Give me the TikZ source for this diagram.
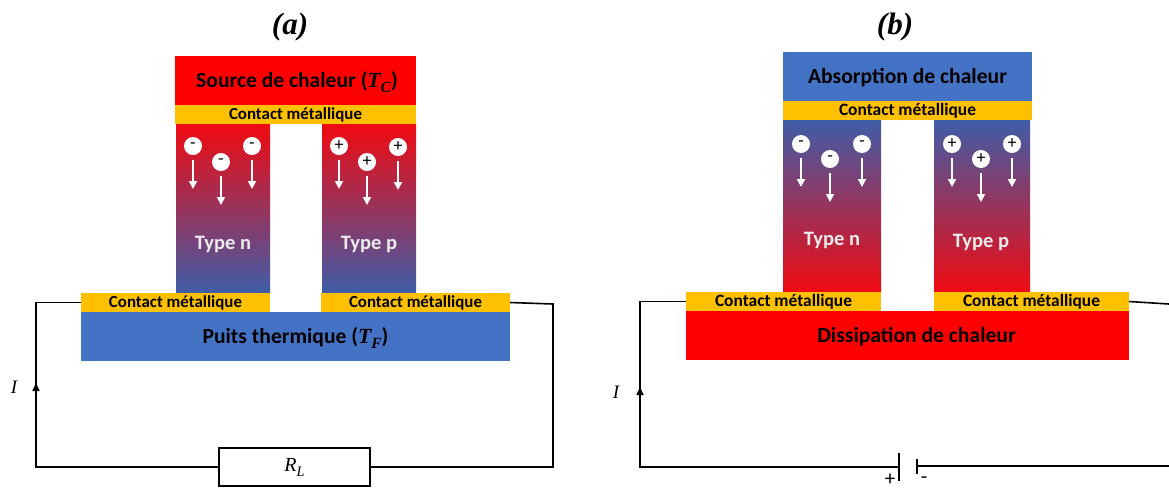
\documentclass[tikz,border=0pt]{standalone}
\usepackage{fontspec}
\setmainfont{Carlito}
\newfontfamily\serifT{Liberation Serif}
\usetikzlibrary{arrows.meta}
\definecolor{gold}{HTML}{FFC000}
\definecolor{heat}{HTML}{FF0000}
\definecolor{cold}{HTML}{4472C4}
\definecolor{legred}{HTML}{F00A10}
\definecolor{legblue}{HTML}{3F5DA8}
\newcommand{\mathlab}[2]{{\serifT\bfseries\itshape #1\raisebox{-0.22em}{\scalebox{0.72}{#2}}}}
\tikzset{
  x=1pt,y=-1pt,
  cell/.style={anchor=north west,inner sep=0pt,outer sep=0pt,text=black,text height=16pt,text depth=2pt,font=\bfseries\fontsize{21.6}{24}\selectfont},
  heatbox/.style={cell,fill=heat},
  coldbox/.style={cell,fill=cold},
  contact/.style={cell,fill=gold,text height=12pt,text depth=2pt,font=\bfseries\fontsize{16.9}{18}\selectfont},
  contactb/.style={contact,font=\bfseries\fontsize{17.4}{18}\selectfont},
  legdown/.style={cell,top color=legred,bottom color=legblue},
  legup/.style={cell,top color=legblue,bottom color=legred},
  legtext/.style={text=black!8,font=\bfseries\fontsize{20.5}{22}\selectfont},
  carrier/.style={circle,fill=white,inner sep=0pt,minimum size=18pt,text=black,font=\fontsize{18}{18}\selectfont},
  flow/.style={draw=white,line width=1.7pt,-{Triangle[length=8pt,width=8pt]}},
  wire/.style={draw=black,line width=1.6pt},
  title/.style={font=\serifT\bfseries\itshape\fontsize{31}{34}\selectfont},
  ilabel/.style={font=\serifT\itshape\fontsize{19}{20}\selectfont},
  sign/.style={font=\fontsize{21}{21}\selectfont,inner sep=0pt}
}
\begin{document}
\begin{tikzpicture}
\useasboundingbox (0,0) rectangle (1169,491);
% ---------- (a)
\node[title] (ta) at (290,27) {(a)};
\node[heatbox,minimum width=241pt,minimum height=49pt] (srcA) at (175,56) {\hspace*{3pt}Source de chaleur (\mathlab{T}{C})};
\node[contact,minimum width=241pt,minimum height=19pt] (topA) at (175,105) {Contact métallique};
\node[legdown,minimum width=94pt,minimum height=169pt] (nA) at (176,124) {};
\node[legdown,minimum width=94pt,minimum height=169pt] (pA) at (322,124) {};
\node[legtext] (nAt) at (223,244) {Type n};
\node[legtext] (pAt) at (369,244) {Type p};
\node[coldbox,minimum width=429pt,minimum height=49pt] (sink) at (81,312) {Puits thermique (\mathlab{T}{F})};
\node[contact,minimum width=189pt,minimum height=19pt] (botAl) at (81,293) {Contact métallique};
\node[contact,minimum width=189pt,minimum height=19pt] (botAr) at (321,293) {Contact métallique};
\foreach \n/\x/\y/\s in {a1/193/146/-,a2/221/162/-,a3/252/146/-,a4/339/146/+,a5/367/162/+,a6/398/147/+}{
  \node[carrier] (\n) at (\x,\y) {\s};
  \coordinate (\n e) at (\x,\y+43);
  \draw[flow] ([yshift=-5pt]\n.south) -- (\n e);
}
% circuit (a)
\node[draw=black,line width=1.6pt,fill=white,minimum width=151pt,minimum height=38pt,inner sep=0pt,font=\serifT\itshape\fontsize{20}{22}\selectfont] (RL) at (294.5,467) {R\raisebox{-0.25em}{\scalebox{0.72}{L}}};
\coordinate (a1c) at (36,302.5);
\coordinate (a2c) at (36,467);
\coordinate (a3c) at (553,467);
\coordinate (a4c) at (553,304);
\coordinate (aArrow) at (36,383);
\draw[wire] (botAl.west) -- (a1c) -- (a2c) -- (RL.west);
\draw[wire] (RL.east) -- (a3c) -- (a4c) -- (botAr.east);
\draw[wire,-{Triangle[length=8pt,width=7pt]}] (a2c) -- (aArrow);
\node[ilabel] (Ia) at (14,387) {I};
% ---------- (b)
\node[title] (tb) at (895,27) {(b)};
\node[coldbox,minimum width=249pt,minimum height=49pt] (absB) at (783,52) {Absorption de chaleur};
\node[contactb,minimum width=249pt,minimum height=19pt] (topB) at (783,101) {Contact métallique};
\node[legup,minimum width=98pt,minimum height=172pt] (nB) at (783,120) {};
\node[legup,minimum width=96pt,minimum height=172pt] (pB) at (934,120) {};
\node[legtext] (nBt) at (832,240) {Type n};
\node[legtext] (pBt) at (981,242) {Type p};
\node[heatbox,minimum width=443pt,minimum height=49pt] (diss) at (686,311) {\hspace*{18pt}Dissipation de chaleur};
\node[contactb,minimum width=195pt,minimum height=19pt] (botBl) at (686,292) {Contact métallique};
\node[contactb,minimum width=195pt,minimum height=19pt] (botBr) at (934,292) {Contact métallique};
\foreach \n/\x/\y/\s in {b1/801/144/-,b2/830/159/-,b3/862/144/-,b4/952/144/+,b5/981/159/+,b6/1012/144/+}{
  \node[carrier] (\n) at (\x,\y) {\s};
  \coordinate (\n e) at (\x,\y+43);
  \draw[flow] ([yshift=-5pt]\n.south) -- (\n e);
}
% circuit (b)
\coordinate (b1c) at (640,301.5);
\coordinate (b2c) at (640,467);
\coordinate (plus) at (899,467);
\coordinate (plusT) at (899,453);
\coordinate (plusB) at (899,481);
\coordinate (minus) at (917,466);
\coordinate (minusT) at (917,459);
\coordinate (minusB) at (917,474);
\coordinate (bEnd) at (1169,466);
\coordinate (bTop) at (1169,304);
\coordinate (bArrow) at (640,387);
\draw[wire] (botBl.west) -- (b1c) -- (b2c) -- (plus);
\draw[wire] (plusT) -- (plusB);
\draw[wire] (minusT) -- (minusB);
\draw[wire] (minus) -- (bEnd);
\draw[wire] (botBr.east) -- (bTop);
\draw[wire,-{Triangle[length=8pt,width=7pt]}] (b2c) -- (bArrow);
\node[ilabel] (Ib) at (616,392) {I};
\node[sign] (plusL) at (890,480) {+};
\node[sign] (minusL) at (924,480) {-};
\end{tikzpicture}
\end{document}
